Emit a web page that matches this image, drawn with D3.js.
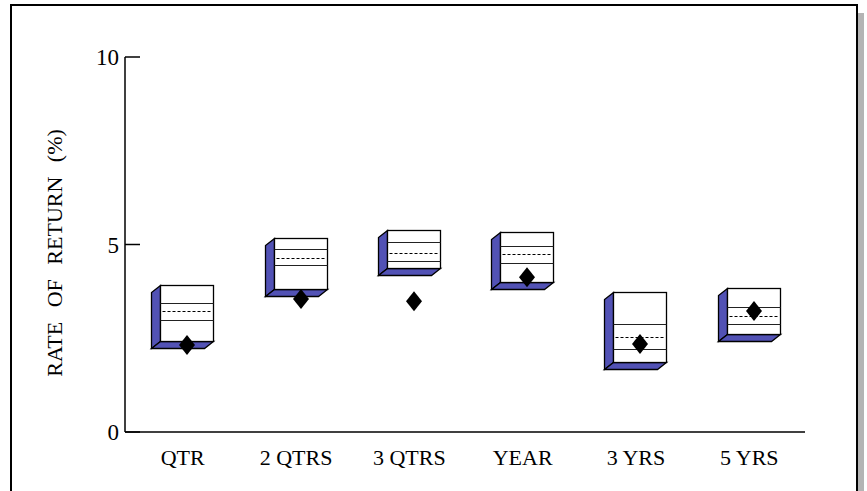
<!DOCTYPE html>
<html lang="en">
<head>
	<title>Rate of Return</title>
	<script src="https://d3js.org/d3.v7.min.js" charset="utf-8"></script>
	<style>
		body { margin: 0; background: #fff; }
	</style>
</head>
<body>
	<script>

	var width = 867, height = 491

	// chart values
	var categories = ["QTR", "2 QTRS", "3 QTRS", "YEAR", "3 YRS", "5 YRS"]
	var boxTop    = [3.92, 5.17, 5.39, 5.33, 3.73, 3.84]
	var upperLine = [3.44, 4.88, 5.07, 4.96, 2.88, 3.33]
	var medians   = [3.23, 4.64, 4.77, 4.75, 2.53, 3.09]
	var lowerLine = [2.99, 4.45, 4.56, 4.51, 2.21, 2.88]
	var boxBottom = [2.43, 3.81, 4.37, 4.00, 1.87, 2.61]
	var points    = [2.32, 3.55, 3.49, 4.13, 2.35, 3.23]
	var yTicks = [0, 5, 10]

	var svg = d3.select("body").append("svg")
		.attr("width", width)
		.attr("height", height);

	// frame with shadow
	svg.append("rect").attr("x", 858).attr("y", 13).attr("width", 6).attr("height", 490).attr("fill", "#b4b4b4");
	svg.append("rect").attr("x", 11).attr("y", 5).attr("width", 846).attr("height", 500)
		.attr("fill", "#fff").attr("stroke", "#000").attr("stroke-width", 2);

	var y = d3.scaleLinear().domain([0, 10]).range([432, 57]);
	var x = d3.scaleBand().domain(categories).range([125, 805]);
	// snap to pixel centres so thin lines stay sharp
	var py = function(v){ return Math.round(y(v)) + 0.5; };

	var bw = 53, dx = 9, dy = 7;

	var rows = categories.map(function(c, i) {
		return {cat: c, top: boxTop[i], up: upperLine[i], med: medians[i], lo: lowerLine[i], bot: boxBottom[i], pt: points[i]};
	});

	// axes
	var ax = svg.append("g");
	ax.append("line").attr("x1", 125).attr("x2", 125).attr("y1", y(10)).attr("y2", y(0)).attr("stroke", "#000").attr("stroke-width", 1.5);
	ax.append("line").attr("x1", 125).attr("x2", 805).attr("y1", y(0)).attr("y2", y(0)).attr("stroke", "#000").attr("stroke-width", 1.5);
	ax.selectAll(".tick").data(yTicks).enter().append("line")
		.attr("x1", 125).attr("x2", 140).attr("y1", y).attr("y2", y)
		.attr("stroke", "#000").attr("stroke-width", 1.5);
	ax.selectAll(".tlab").data(yTicks).enter().append("text")
		.attr("x", 119).attr("y", function(d){ return y(d) + 8; })
		.attr("text-anchor", "end").style("font", "23px 'Liberation Serif', serif")
		.text(function(d){ return d; });
	ax.selectAll(".xlab").data(categories).enter().append("text")
		.attr("x", function(d){ return x(d) + x.bandwidth()/2 + 1; }).attr("y", 465)
		.attr("text-anchor", "middle").style("font", "22px 'Liberation Serif', serif")
		.text(function(d){ return d; });

	svg.append("text")
		.attr("transform", "translate(62,253) rotate(-90)")
		.attr("text-anchor", "middle").style("font", "22px 'Liberation Serif', serif")
		.style("word-spacing", "9px")
		.text("RATE OF RETURN (%)");

	// boxes
	var g = svg.append("g").selectAll("g").data(rows).enter().append("g")
		.attr("transform", function(d){ return "translate(" + Math.round(x(d.cat) + x.bandwidth()/2 + 5 - bw/2) + ".5,0)"; });

	g.append("path").attr("fill", "#5252b5").attr("stroke", "#000").attr("stroke-width", 1.3)
		.attr("d", function(d){
			return "M0," + py(d.top) + "L" + (-dx) + "," + (py(d.top) + dy) + "L" + (-dx) + "," + (py(d.bot) + dy) + "L0," + py(d.bot) + "Z";
		});
	g.append("path").attr("fill", "#5252b5").attr("stroke", "#000").attr("stroke-width", 1.3)
		.attr("d", function(d){
			return "M0," + py(d.bot) + "L" + bw + "," + py(d.bot) + "L" + (bw - dx) + "," + (py(d.bot) + dy) + "L" + (-dx) + "," + (py(d.bot) + dy) + "Z";
		});
	g.append("rect").attr("x", 0).attr("width", bw)
		.attr("y", function(d){ return py(d.top); })
		.attr("height", function(d){ return py(d.bot) - py(d.top); })
		.attr("fill", "#fff").attr("stroke", "#000").attr("stroke-width", 1.3);
	g.append("line").attr("x1", 0).attr("x2", bw)
		.attr("y1", function(d){ return py(d.up); }).attr("y2", function(d){ return py(d.up); })
		.attr("stroke", "#222").attr("stroke-width", 1);
	g.append("line").attr("x1", 0).attr("x2", bw)
		.attr("y1", function(d){ return py(d.lo); }).attr("y2", function(d){ return py(d.lo); })
		.attr("stroke", "#222").attr("stroke-width", 1);
	g.append("line").attr("x1", 2).attr("x2", bw - 2)
		.attr("y1", function(d){ return py(d.med); }).attr("y2", function(d){ return py(d.med); })
		.attr("stroke", "#000").attr("stroke-width", 1).attr("stroke-dasharray", "3,2");

	g.append("path").attr("fill", "#000")
		.attr("d", function(d){
			var cx = bw/2, cy = y(d.pt);
			return "M" + cx + "," + (cy - 10) + "L" + (cx + 8) + "," + cy + "L" + cx + "," + (cy + 10) + "L" + (cx - 8) + "," + cy + "Z";
		});

	</script>
</body>
</html>
